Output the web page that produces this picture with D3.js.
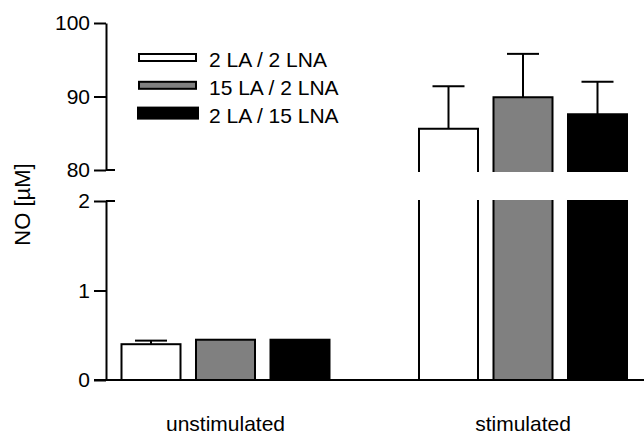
<!DOCTYPE html>
<html><head><meta charset="utf-8">
<script src="https://cdn.jsdelivr.net/npm/d3@7"></script>
<style>
body{margin:0;background:#fff}
svg{display:block}
text{font-family:"Liberation Sans",Arial,sans-serif;fill:#000}
</style>
</head><body>
<svg id="c" width="644" height="434"></svg>
<script>
const categories = ["unstimulated", "stimulated"];
const series = ["2 LA / 2 LNA", "15 LA / 2 LNA", "2 LA / 15 LNA"];
const meanUnstim = [0.40, 0.45, 0.45];
const errUnstim = [0.04, 0, 0];
const meanStim = [85.6, 89.9, 87.6];
const errStim = [5.8, 5.9, 4.4];
const lowTicks = [0, 1, 2];
const highTicks = [80, 90, 100];
const colors = ["#ffffff", "#808080", "#000000"];
const yLabel = "NO [µM]";

const svg = d3.select("#c");
const FS = 21;

const yLow = d3.scaleLinear().domain([0, 2]).range([380, 201]);
const yHigh = d3.scaleLinear().domain([80, 100]).range([170, 23]);
const x0 = d3.scaleBand().domain(categories).range([76.75, 671.75]);
const x1 = d3.scaleBand().domain(series).range([-111.75, 111.75]).paddingInner(0.208).paddingOuter(0.104);
const axisX = 106;

const data = [meanUnstim, meanStim];
const errs = [errUnstim, errStim];

// bars
categories.forEach((cat, ci) => {
  series.forEach((s, si) => {
    const v = data[ci][si], e = errs[ci][si];
    const xl = x0(cat) + x0.bandwidth() / 2 + x1(s);
    const w = x1.bandwidth();
    const g = svg.append("g");
    let topY;
    if (v <= lowTicks[lowTicks.length - 1]) {
      topY = yLow(v);
      g.append("rect").attr("x", xl).attr("y", topY).attr("width", w).attr("height", yLow(0) - topY)
        .attr("fill", colors[si]).attr("stroke", "#000").attr("stroke-width", 2);
    } else {
      topY = yHigh(v);
      const lowTop = yLow(2) - 1, highBot = yHigh(80) + 2;
      g.append("rect").attr("x", xl).attr("y", lowTop).attr("width", w).attr("height", yLow(0) - lowTop)
        .attr("fill", colors[si]);
      g.append("path").attr("d", `M${xl},${lowTop}V${yLow(0)}M${xl + w},${lowTop}V${yLow(0)}`)
        .attr("stroke", "#000").attr("stroke-width", 2).attr("fill", "none");
      g.append("rect").attr("x", xl).attr("y", topY).attr("width", w).attr("height", highBot - topY)
        .attr("fill", colors[si]);
      g.append("path").attr("d", `M${xl},${highBot}V${topY}H${xl + w}V${highBot}`)
        .attr("stroke", "#000").attr("stroke-width", 2).attr("fill", "none");
    }
    if (e > 0) {
      const ys = v <= 2 ? yLow : yHigh;
      const ey = ys(v + e);
      const cx = xl + w / 2;
      g.append("line").attr("x1", cx).attr("x2", cx).attr("y1", topY).attr("y2", ey)
        .attr("stroke", "#000").attr("stroke-width", 2);
      g.append("line").attr("x1", cx - 16).attr("x2", cx + 16).attr("y1", ey).attr("y2", ey)
        .attr("stroke", "#000").attr("stroke-width", 2);
    }
  });
});

// y axes
function styleAxis(g) {
  g.selectAll("path,line").attr("stroke", "#000").attr("stroke-width", 2);
  g.selectAll("text").attr("font-size", FS).attr("font-family", '"Liberation Sans",Arial,sans-serif').attr("fill", "#000");
}
svg.append("g").attr("transform", `translate(${axisX},0)`)
  .call(d3.axisLeft(yHigh).tickValues(highTicks).tickFormat(d3.format("d")).tickSize(12).tickSizeOuter(0).tickPadding(4))
  .call(styleAxis);
svg.append("g").attr("transform", `translate(${axisX},0)`)
  .call(d3.axisLeft(yLow).tickValues(lowTicks).tickFormat(d3.format("d")).tickSize(12).tickSizeOuter(0).tickPadding(4))
  .call(styleAxis);
svg.append("line").attr("x1", axisX).attr("x2", axisX + 9).attr("y1", yHigh(80)).attr("y2", yHigh(80))
  .attr("stroke", "#000").attr("stroke-width", 2);
svg.append("line").attr("x1", axisX).attr("x2", axisX + 9).attr("y1", yLow(2)).attr("y2", yLow(2))
  .attr("stroke", "#000").attr("stroke-width", 2);

// x axis
svg.append("line").attr("x1", 94).attr("x2", 644).attr("y1", yLow(0)).attr("y2", yLow(0))
  .attr("stroke", "#000").attr("stroke-width", 2);
svg.selectAll("text.cat").data(categories).enter().append("text").attr("class", "cat")
  .attr("x", d => x0(d) + x0.bandwidth() / 2).attr("y", 431)
  .attr("text-anchor", "middle").attr("font-size", FS).text(d => d);

// y label
svg.append("text").attr("transform", "translate(30,204.5) rotate(-90)")
  .attr("text-anchor", "middle").attr("font-size", 22).text(yLabel);

// legend
const leg = svg.append("g");
series.forEach((s, i) => {
  const cy = 57.5 + i * 27.8;
  if (i < 2) {
    leg.append("rect").attr("x", 139).attr("y", cy - 3.5).attr("width", 57).attr("height", 7)
      .attr("fill", colors[i]).attr("stroke", "#000").attr("stroke-width", 2);
  } else {
    leg.append("rect").attr("x", 138).attr("y", cy - 5.5).attr("width", 60).attr("height", 11)
      .attr("fill", colors[i]).attr("stroke", "#000").attr("stroke-width", 2);
  }
  leg.append("text").attr("x", 209).attr("y", cy + 9.5).attr("font-size", FS).text(s);
});
</script>
</body></html>
